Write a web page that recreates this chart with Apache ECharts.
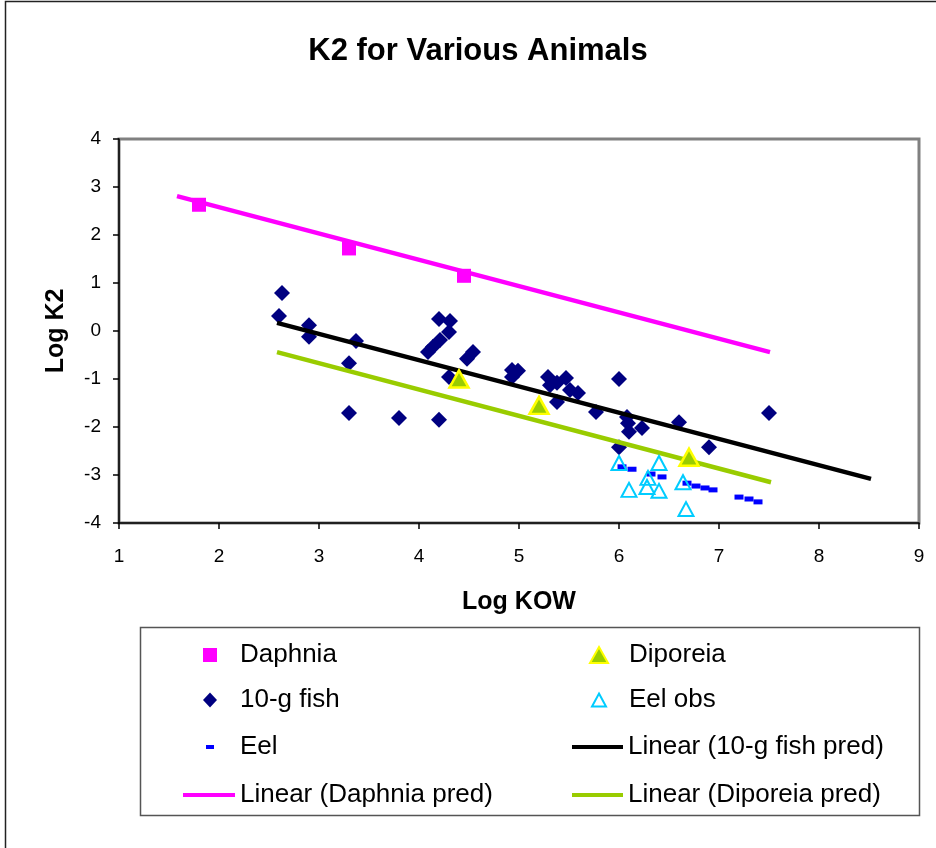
<!DOCTYPE html>
<html><head><meta charset="utf-8">
<script src="https://cdn.jsdelivr.net/npm/echarts@6/dist/echarts.min.js"></script>
<style>html,body{margin:0;padding:0;background:#fff}#c{width:936px;height:848px}</style>
</head><body><div id="c"></div>
<script>
// ---- data ----
const xTicks = [1, 2, 3, 4, 5, 6, 7, 8, 9];
const yTicks = [-4, -3, -2, -1, 0, 1, 2, 3, 4];

const daphniaX = [1.8, 3.3, 4.45];
const daphniaY = [2.63, 1.72, 1.15];

const diporeiaX = [4.40, 5.20, 6.70];
const diporeiaY = [-1.00, -1.55, -2.63];

const fishX = [2.63, 2.60, 2.90, 2.90, 3.37, 3.30, 3.30, 3.80, 4.20, 4.20, 4.31, 4.30, 4.21, 4.14, 4.09, 4.54, 4.48, 4.30,
  4.93, 4.99, 4.93, 5.29, 5.47, 5.31, 5.38, 5.51, 5.59, 5.38, 5.77, 6.00, 6.08, 6.09, 6.23, 6.10, 6.00, 6.60, 6.90, 7.50];
const fishY = [0.79, 0.31, 0.12, -0.12, -0.21, -0.67, -1.71, -1.81, -1.85, 0.25, 0.21, -0.02, -0.19, -0.33, -0.44, -0.44, -0.58, -0.96,
  -0.81, -0.83, -0.96, -0.96, -0.98, -1.13, -1.08, -1.23, -1.29, -1.48, -1.69, -1.00, -1.79, -1.92, -2.02, -2.10, -2.42, -1.90, -2.42, -1.71];

const eelObsX = [6.00, 6.40, 6.10, 6.29, 6.28, 6.40, 6.64, 6.67];
const eelObsY = [-2.75, -2.75, -3.31, -3.06, -3.25, -3.33, -3.15, -3.71];

const eelX = [6.03, 6.13, 6.32, 6.43, 6.68, 6.77, 6.86, 6.94, 7.20, 7.30, 7.39];
const eelY = [-2.83, -2.88, -2.98, -3.04, -3.17, -3.23, -3.27, -3.31, -3.46, -3.50, -3.56];

const fishPredX = [2.58, 8.52];
const fishPredY = [0.17, -3.08];
const daphniaPredX = [1.58, 7.51];
const daphniaPredY = [2.81, -0.44];
const diporeiaPredX = [2.58, 7.52];
const diporeiaPredY = [-0.44, -3.15];

const names = ['Daphnia', 'Diporeia', '10-g fish', 'Eel obs', 'Eel',
  'Linear (10-g fish pred)', 'Linear (Daphnia pred)', 'Linear (Diporeia pred)'];

// ---- build ----
const zip = (xs, ys) => xs.map((x, i) => [x, ys[i]]);
const FONT = 'Liberation Sans, Arial, sans-serif';
const LH = 28;

const chart = echarts.init(document.getElementById('c'), null, {renderer: 'canvas'});

// icon drawn in a box of w x h whose left edge is `left`; text should start at textX
function legendItem(name, left, rowCenter, w, h, icon, textX, extra) {
  const item = Object.assign({name: name, icon: icon}, extra || {});
  const pad = Math.max(0, textX - (left + w + 5));
  return {
    data: [item], left: left, top: rowCenter - LH / 2, padding: 0,
    itemWidth: w, itemHeight: h, selectedMode: false,
    textStyle: {fontSize: 26, fontFamily: FONT, color: '#000', lineHeight: LH, padding: [0, 0, 0, pad]}
  };
}
const r = [655, 700, 747, 795];
const legends = [
  legendItem(names[0], 203, r[0], 14, 14, 'rect', 240),
  legendItem(names[1], 589, r[0], 18, 16, 'triangle', 628),
  legendItem(names[2], 203, r[1], 14, 15, 'diamond', 240),
  legendItem(names[3], 591, r[1], 14, 13, 'triangle', 628),
  legendItem(names[4], 206, r[2], 8, 4, 'rect', 240),
  legendItem(names[5], 572, r[2], 51, 4, 'rect', 628, {itemStyle: {color: '#000000'}}),
  legendItem(names[6], 183, r[3], 52, 4, 'rect', 240, {itemStyle: {color: '#FF00FF'}}),
  legendItem(names[7], 572, r[3], 51, 4, 'rect', 628, {itemStyle: {color: '#99CC00'}})
];

const lineSeries = (name, xs, ys, color) => ({
  name: name, type: 'line', data: zip(xs, ys), showSymbol: false, symbol: 'none',
  lineStyle: {color: color, width: 4.5}, itemStyle: {color: color}, z: 3, silent: true
});

const option = {
  animation: false,
  backgroundColor: '#fff',
  title: {
    text: 'K2 for Various Animals', left: 478, top: 36, textAlign: 'center', padding: 0,
    textStyle: {fontSize: 31, fontWeight: 'bold', fontFamily: FONT, color: '#000'}
  },
  graphic: [
    {type: 'rect', shape: {x: 5.5, y: 1.5, width: 1200, height: 1200}, style: {fill: 'none', stroke: '#222', lineWidth: 1.5}, silent: true, z: -1},
    {type: 'rect', shape: {x: 140.5, y: 627.5, width: 779, height: 188}, style: {fill: 'none', stroke: '#555', lineWidth: 1.5}, silent: true, z: -1}
  ],
  grid: {left: 119, top: 139, width: 800, height: 384, show: true, borderColor: '#808080', borderWidth: 3, backgroundColor: '#fff'},
  legend: legends,
  xAxis: {
    type: 'value', min: xTicks[0], max: xTicks[xTicks.length - 1], interval: 1,
    name: 'Log KOW', nameLocation: 'middle', nameGap: 67,
    nameTextStyle: {fontSize: 25, fontWeight: 'bold', fontFamily: FONT, color: '#000'},
    axisLine: {onZero: false, lineStyle: {color: '#000', width: 1.5}},
    axisTick: {show: true, length: 6, lineStyle: {color: '#000', width: 1.5}},
    axisLabel: {fontSize: 19, fontFamily: FONT, color: '#000', margin: 24},
    splitLine: {show: false}
  },
  yAxis: {
    type: 'value', min: yTicks[0], max: yTicks[yTicks.length - 1], interval: 1,
    name: 'Log K2', nameLocation: 'middle', nameGap: 50, nameRotate: 90,
    nameTextStyle: {fontSize: 25, fontWeight: 'bold', fontFamily: FONT, color: '#000'},
    axisLine: {onZero: false, lineStyle: {color: '#000', width: 1.5}},
    axisTick: {show: true, length: 6, lineStyle: {color: '#000', width: 1.5}},
    axisLabel: {fontSize: 19, fontFamily: FONT, color: '#000', margin: 18},
    splitLine: {show: false}
  },
  series: [
    {name: names[2], type: 'scatter', data: zip(fishX, fishY), symbol: 'diamond', symbolSize: 16,
      itemStyle: {color: '#000080', opacity: 1}, z: 2, silent: true},
    lineSeries(names[5], fishPredX, fishPredY, '#000000'),
    lineSeries(names[6], daphniaPredX, daphniaPredY, '#FF00FF'),
    lineSeries(names[7], diporeiaPredX, diporeiaPredY, '#99CC00'),
    {name: names[0], type: 'scatter', data: zip(daphniaX, daphniaY), symbol: 'rect', symbolSize: 14,
      itemStyle: {color: '#FF00FF', opacity: 1}, z: 4, silent: true},
    {name: names[4], type: 'scatter', data: zip(eelX, eelY), symbol: 'rect', symbolSize: [9, 5],
      itemStyle: {color: '#0000FF', opacity: 1}, z: 4, silent: true},
    {name: names[1], type: 'scatter', data: zip(diporeiaX, diporeiaY), symbol: 'triangle', symbolSize: [19, 17],
      itemStyle: {color: '#99CC00', borderColor: '#FFFF00', borderWidth: 2.5, opacity: 1}, z: 4, silent: true},
    {name: names[3], type: 'scatter', data: zip(eelObsX, eelObsY), symbol: 'triangle', symbolSize: [15, 14],
      itemStyle: {color: 'rgba(255,255,255,0)', borderColor: '#00CCFF', borderWidth: 2, opacity: 1}, z: 4, silent: true}
  ]
};
chart.setOption(option);
</script>
</body></html>
